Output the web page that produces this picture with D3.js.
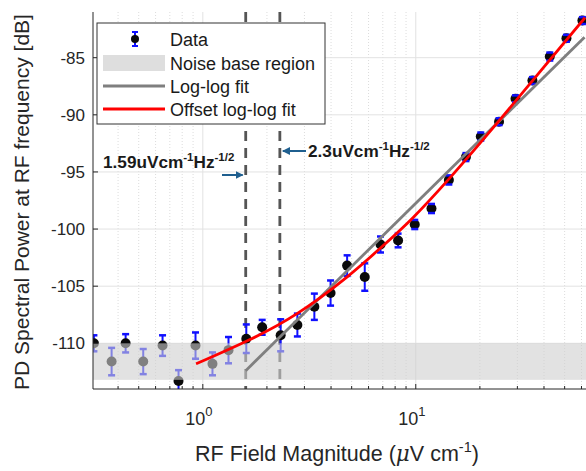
<!DOCTYPE html>
<html>
<head>
<meta charset="utf-8">
<script src="https://cdn.jsdelivr.net/npm/d3@7"></script>
<style>
  body { margin: 0; background: #fff; }
  svg { display: block; font-family: "Liberation Sans", Arial, sans-serif; }
</style>
</head>
<body>
<div id="chart"></div>
<script>
// measured data (field in uV/cm, power in dB)
const fieldVals = [0.308, 0.373, 0.434, 0.525, 0.647, 0.769, 0.924, 1.11, 1.32, 1.60, 1.90, 2.32, 2.78, 3.34, 3.98,
  4.76, 5.76, 6.83, 8.26, 9.89, 11.85, 14.3, 17.2, 20.2, 24.6, 29.4, 35.3, 42.6, 51.0, 60.6];
const powerVals = [-110.0, -111.6, -110.0, -111.6, -110.2, -113.3, -110.2, -111.8, -110.6, -109.6, -108.6, -109.3, -108.4, -106.8, -105.6,
  -103.2, -104.2, -101.35, -101.0, -99.6, -98.2, -95.7, -93.7, -91.9, -90.6, -88.6, -87.0, -84.9, -83.3, -81.75];
const errVals = [0.7, 1.2, 0.8, 1.1, 0.9, 0.95, 1.15, 1.0, 1.15, 1.25, 0.65, 1.4, 1.0, 1.15, 1.1,
  0.9, 1.2, 0.7, 0.6, 0.4, 0.4, 0.4, 0.35, 0.35, 0.3, 0.3, 0.3, 0.35, 0.3, 0.3];

// fit curves
const loglogX = [1.59, 62];
const loglogY = [-112.4, -83.2];
const offsetX = [0.93, 1.61, 2.77, 4.75, 6.79, 9.7, 14.5, 24.8, 62.3];
const offsetY = [-111.8, -109.8, -107.4, -104.2, -101.7, -99.0, -95.5, -90.45, -81.5];

// noise base region and sensitivity markers
const noiseBand = [-113.2, -110];
const markerX = [1.59, 2.3];

const yTicks = [-110, -105, -100, -95, -90, -85];
const xMajor = [1, 10];

const W = 586, H = 471;
const pL = 93, pR = 586, pT = 12, pB = 389;

const svg = d3.select("#chart").append("svg")
  .attr("width", W)
  .attr("height", H);

const x = d3.scaleLog().domain([0.305, 63]).range([pL, pR]);
const y = d3.scaleLinear().domain([-114, -81]).range([pB, pT]);

const defs = svg.append("defs");
defs.append("clipPath").attr("id", "plot")
  .append("rect").attr("x", pL).attr("y", pT).attr("width", pR - pL).attr("height", pB - pT);

// minor x ticks (2..9 in each decade)
const xMinor = [];
[0.1, 1, 10].forEach(dec => {
  for (let k = 2; k <= 9; k++) {
    const v = dec * k;
    if (v > 0.305 && v < 63 && v !== 1 && v !== 10) xMinor.push(v);
  }
});

// grid
const grid = svg.append("g");
grid.selectAll(".gxm").data(xMinor).enter().append("line")
  .attr("x1", d => x(d)).attr("x2", d => x(d))
  .attr("y1", pT).attr("y2", pB)
  .attr("stroke", "#dcdcdc").attr("stroke-width", 1)
  .attr("stroke-dasharray", "1,2");
grid.selectAll(".gxM").data(xMajor).enter().append("line")
  .attr("x1", d => x(d)).attr("x2", d => x(d))
  .attr("y1", pT).attr("y2", pB)
  .attr("stroke", "#e2e2e2").attr("stroke-width", 1);
grid.selectAll(".gy").data(yTicks).enter().append("line")
  .attr("x1", pL).attr("x2", pR)
  .attr("y1", d => y(d)).attr("y2", d => y(d))
  .attr("stroke", "#e2e2e2").attr("stroke-width", 1);

const plot = svg.append("g").attr("clip-path", "url(#plot)");

// dashed sensitivity lines
plot.selectAll(".vdash").data(markerX).enter().append("line")
  .attr("x1", d => x(d)).attr("x2", d => x(d))
  .attr("y1", pT).attr("y2", pB)
  .attr("stroke", "#555").attr("stroke-width", 2.8)
  .attr("stroke-dasharray", "10,7");

// data: error bars + markers
const pts = fieldVals.map((f, i) => ({ f: f, p: powerVals[i], e: errVals[i] }));
plot.selectAll(".eb").data(pts).enter().append("line")
  .attr("x1", d => x(d.f)).attr("x2", d => x(d.f))
  .attr("y1", d => y(d.p - d.e)).attr("y2", d => y(d.p + d.e))
  .attr("stroke", "#1010ff").attr("stroke-width", 2);
plot.selectAll(".mk").data(pts).enter().append("circle")
  .attr("cx", d => x(d.f)).attr("cy", d => y(d.p))
  .attr("r", 5).attr("fill", "#0a0a0a");
plot.selectAll(".capt").data(pts).enter().append("line")
  .attr("x1", d => x(d.f) - 3.5).attr("x2", d => x(d.f) + 3.5)
  .attr("y1", d => y(d.p + d.e)).attr("y2", d => y(d.p + d.e))
  .attr("stroke", "#1010ff").attr("stroke-width", 2.5);
plot.selectAll(".capb").data(pts).enter().append("line")
  .attr("x1", d => x(d.f) - 3.5).attr("x2", d => x(d.f) + 3.5)
  .attr("y1", d => y(d.p - d.e)).attr("y2", d => y(d.p - d.e))
  .attr("stroke", "#1010ff").attr("stroke-width", 2.5);

// noise base region (drawn over points, semi transparent)
plot.append("rect")
  .attr("x", pL).attr("width", pR - pL)
  .attr("y", y(noiseBand[1])).attr("height", y(noiseBand[0]) - y(noiseBand[1]))
  .attr("fill", "#cfcfcf").attr("fill-opacity", 0.6);

// fits
const line = d3.line().x(d => x(d[0])).y(d => y(d[1]));
plot.append("path")
  .datum(loglogX.map((v, i) => [v, loglogY[i]]))
  .attr("d", line)
  .attr("fill", "none").attr("stroke", "#7f7f7f").attr("stroke-width", 2.8);
plot.append("path")
  .datum(offsetX.map((v, i) => [v, offsetY[i]]))
  .attr("d", line.curve(d3.curveNatural))
  .attr("fill", "none").attr("stroke", "#ff0000").attr("stroke-width", 2.8);

// axes (ticks pointing inward)
const axisCol = "#262626";
svg.append("line").attr("x1", pL).attr("x2", pL).attr("y1", pT).attr("y2", pB)
  .attr("stroke", axisCol).attr("stroke-width", 1);
svg.append("line").attr("x1", pL).attr("x2", pR).attr("y1", pB).attr("y2", pB)
  .attr("stroke", axisCol).attr("stroke-width", 1);

svg.selectAll(".yt").data(yTicks).enter().append("line")
  .attr("x1", pL).attr("x2", pL + 5)
  .attr("y1", d => y(d)).attr("y2", d => y(d))
  .attr("stroke", axisCol);
svg.selectAll(".ytl").data(yTicks).enter().append("text")
  .attr("x", pL - 8).attr("y", d => y(d) + 6)
  .attr("text-anchor", "end")
  .attr("font-size", 17).attr("fill", axisCol)
  .text(d => d);

svg.selectAll(".xtm").data(xMinor).enter().append("line")
  .attr("x1", d => x(d)).attr("x2", d => x(d))
  .attr("y1", pB).attr("y2", pB - 3)
  .attr("stroke", axisCol);
svg.selectAll(".xtM").data(xMajor).enter().append("line")
  .attr("x1", d => x(d)).attr("x2", d => x(d))
  .attr("y1", pB).attr("y2", pB - 5)
  .attr("stroke", axisCol);
const xl = svg.selectAll(".xtl").data(xMajor).enter().append("text")
  .attr("x", d => x(d) - 4).attr("y", pB + 36)
  .attr("text-anchor", "middle")
  .attr("font-size", 18).attr("fill", axisCol);
xl.append("tspan").text("10");
xl.append("tspan").attr("dy", -9).attr("font-size", 13).text(d => Math.round(Math.log10(d)));

// axis titles
const xt = svg.append("text")
  .attr("x", 337).attr("y", 461)
  .attr("text-anchor", "middle")
  .attr("font-size", 21.5).attr("fill", axisCol);
xt.append("tspan").text("RF Field Magnitude (");
xt.append("tspan").attr("font-style", "italic").attr("font-family", "DejaVu Serif, serif").text("\u03bc");
xt.append("tspan").text("V cm");
xt.append("tspan").attr("dy", -9).attr("font-size", 14.5).text("-1");
xt.append("tspan").attr("dy", 9).text(")");

svg.append("text")
  .attr("transform", "translate(29,202) rotate(-90)")
  .attr("text-anchor", "middle")
  .attr("font-size", 21).attr("fill", axisCol)
  .text("PD Spectral Power at RF frequency [dB]");

// annotations
function annot(tx, ty, big) {
  const t = svg.append("text").attr("x", tx).attr("y", ty)
    .attr("font-size", 17.2).attr("font-weight", "bold").attr("fill", "#1a1a1a");
  t.append("tspan").text(big + "uVcm");
  t.append("tspan").attr("dy", -7).attr("font-size", 11.5).text("-1");
  t.append("tspan").attr("dy", 7).text("Hz");
  t.append("tspan").attr("dy", -7).attr("font-size", 11.5).text("-1/2");
}
annot(103, 168, "1.59");
annot(308, 157, "2.3");

const arrowCol = "#1f5f8f";
defs.append("marker").attr("id", "ah").attr("viewBox", "0 0 10 10")
  .attr("refX", 9).attr("refY", 5).attr("markerWidth", 4).attr("markerHeight", 4)
  .attr("orient", "auto")
  .append("path").attr("d", "M0,0 L10,5 L0,10 z").attr("fill", arrowCol);
svg.append("line").attr("x1", 222).attr("x2", x(markerX[0]) - 3)
  .attr("y1", 175).attr("y2", 175)
  .attr("stroke", arrowCol).attr("stroke-width", 2).attr("marker-end", "url(#ah)");
svg.append("line").attr("x1", 306).attr("x2", x(markerX[1]) + 3)
  .attr("y1", 151).attr("y2", 151)
  .attr("stroke", arrowCol).attr("stroke-width", 2).attr("marker-end", "url(#ah)");

// legend
const lg = svg.append("g");
lg.append("rect").attr("x", 97).attr("y", 23).attr("width", 228).attr("height", 101)
  .attr("fill", "#fff").attr("stroke", "#333").attr("stroke-width", 1);
const legY = [39, 63, 86, 109];
const legText = ["Data", "Noise base region", "Log-log fit", "Offset log-log fit"];
lg.selectAll(".lt").data(legText).enter().append("text")
  .attr("x", 170).attr("y", (d, i) => legY[i] + 6.5)
  .attr("font-size", 18).attr("fill", "#1a1a1a")
  .text(d => d);
// data symbol
lg.append("line").attr("x1", 135).attr("x2", 135).attr("y1", legY[0] - 7).attr("y2", legY[0] + 7)
  .attr("stroke", "#1010ff").attr("stroke-width", 2);
lg.append("circle").attr("cx", 135).attr("cy", legY[0]).attr("r", 4).attr("fill", "#0a0a0a");
[-7, 7].forEach(o => lg.append("line").attr("x1", 132).attr("x2", 138)
  .attr("y1", legY[0] + o).attr("y2", legY[0] + o).attr("stroke", "#1010ff").attr("stroke-width", 2));
lg.append("rect").attr("x", 103).attr("y", legY[1] - 8).attr("width", 62).attr("height", 16)
  .attr("fill", "#dedede");
lg.append("line").attr("x1", 103).attr("x2", 165).attr("y1", legY[2]).attr("y2", legY[2])
  .attr("stroke", "#7f7f7f").attr("stroke-width", 2.8);
lg.append("line").attr("x1", 103).attr("x2", 165).attr("y1", legY[3]).attr("y2", legY[3])
  .attr("stroke", "#ff0000").attr("stroke-width", 2.8);
</script>
</body>
</html>
